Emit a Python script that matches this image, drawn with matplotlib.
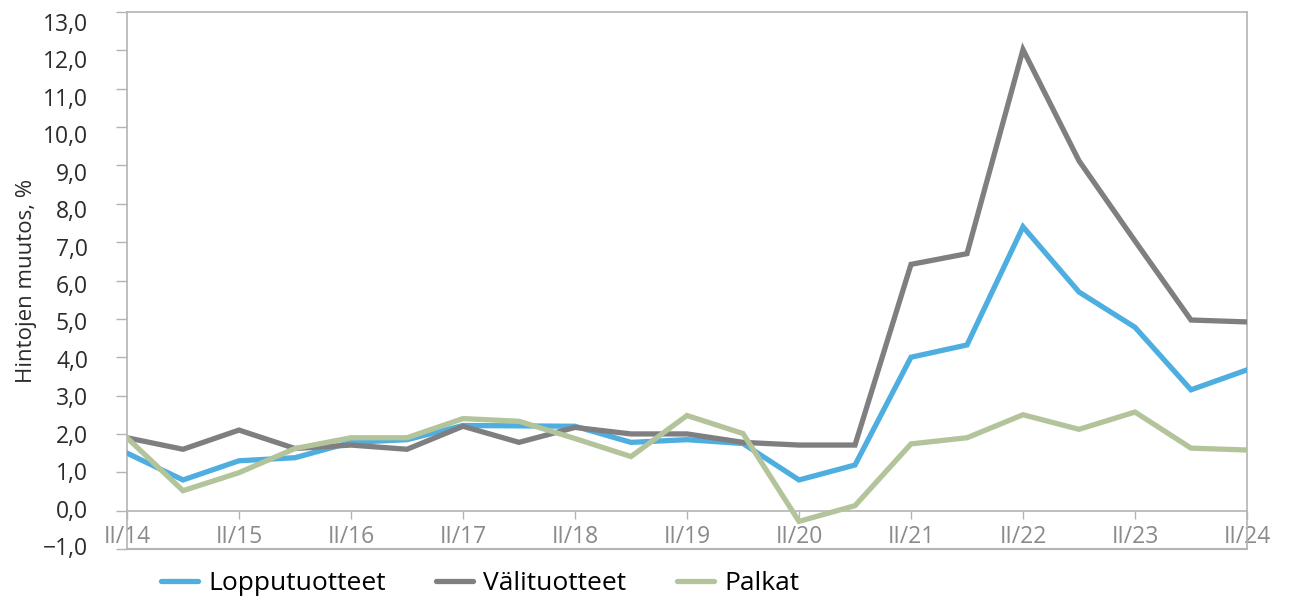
import matplotlib
matplotlib.use("Agg")
import matplotlib.pyplot as plt
from matplotlib.ticker import FuncFormatter
from matplotlib.transforms import ScaledTranslation

# Half-year periods, II/14 ... II/24
periods = ["II/14", "I/15", "II/15", "I/16", "II/16", "I/17", "II/17", "I/18",
           "II/18", "I/19", "II/19", "I/20", "II/20", "I/21", "II/21", "I/22",
           "II/22", "I/23", "II/23", "I/24", "II/24"]

lopputuotteet = [1.5, 0.8, 1.3, 1.38, 1.78, 1.85, 2.22, 2.21, 2.2, 1.78, 1.85,
                 1.75, 0.8, 1.19, 4.0, 4.32, 7.4, 5.7, 4.78, 3.15, 3.67]
valituotteet = [1.9, 1.6, 2.1, 1.62, 1.71, 1.6, 2.2, 1.78, 2.17, 2.0, 2.0,
                1.78, 1.71, 1.71, 6.42, 6.7, 12.02, 9.12, 7.03, 4.97, 4.92]
palkat = [1.9, 0.52, 0.99, 1.62, 1.9, 1.9, 2.4, 2.33, 1.88, 1.41, 2.48,
          2.01, -0.28, 0.13, 1.74, 1.9, 2.5, 2.12, 2.57, 1.63, 1.58]

tick_labels = ["II/14", "II/15", "II/16", "II/17", "II/18", "II/19",
               "II/20", "II/21", "II/22", "II/23", "II/24"]
y_ticks = list(range(-1, 14))

c_blue = "#4faee0"
c_grey = "#7f7e81"
c_green = "#b3c49b"
c_axis = "#b4b4b4"

plt.rcParams['font.family'] = ['Open Sans', 'DejaVu Sans']

fig = plt.figure(figsize=(12.92, 5.99), dpi=100)
ax = fig.add_axes([127 / 1292, 1 - 549 / 599, 1120 / 1292, 537 / 599])

x = list(range(len(periods)))
ax.plot(x, lopputuotteet, color=c_blue, lw=3.8, label="Lopputuotteet",
        solid_joinstyle='miter', zorder=3)
ax.plot(x, valituotteet, color=c_grey, lw=3.8, label="Välituotteet",
        solid_joinstyle='miter', zorder=3)
ax.plot(x, palkat, color=c_green, lw=3.8, label="Palkat",
        solid_joinstyle='miter', zorder=4)

ax.set_xlim(0, len(periods) - 1)
ax.set_ylim(-1, 13)

# y axis
ax.set_yticks(y_ticks)
ax.yaxis.set_major_formatter(FuncFormatter(
    lambda v, p: ("%.1f" % v).replace(".", ",").replace("-", "\u2212")))
ax.tick_params(axis='y', direction='out', length=8, width=1, color=c_axis,
               pad=20, labelsize=16.5, labelcolor="#2b2b2b")
# labels in the original sit a little off their ticks (more at the top)
for v, lab in zip(y_ticks, ax.get_yticklabels()):
    dy = -3 + (v + 1) * 13 / 14
    lab.set_transform(lab.get_transform() +
                      ScaledTranslation(0, -dy / 100, fig.dpi_scale_trans))
ax.set_ylabel("Hintojen muutos, %", fontsize=16, color="#2b2b2b", labelpad=4)

# x axis drawn on the zero line
ax.spines['bottom'].set_position(('data', 0))
ax.set_xticks([periods.index(t) for t in tick_labels])
ax.set_xticklabels(tick_labels)
ax.tick_params(axis='x', direction='out', length=6, width=1, color=c_axis,
               pad=4, labelsize=16.5, labelcolor="#8a8a8a")

for s in ['left', 'right', 'top', 'bottom']:
    ax.spines[s].set_color(c_axis)
    ax.spines[s].set_linewidth(1.2)
ax.axhline(-1, color=c_axis, lw=1.5, clip_on=False, zorder=1)

leg = fig.legend(loc='lower left', bbox_to_anchor=(0.106, -0.035), ncol=3,
                 frameon=False, fontsize=19, handlelength=1.4,
                 handletextpad=0.4, columnspacing=1.9)
for h in leg.get_lines():
    h.set_solid_capstyle('round')

fig.savefig("out.png", dpi=100)
